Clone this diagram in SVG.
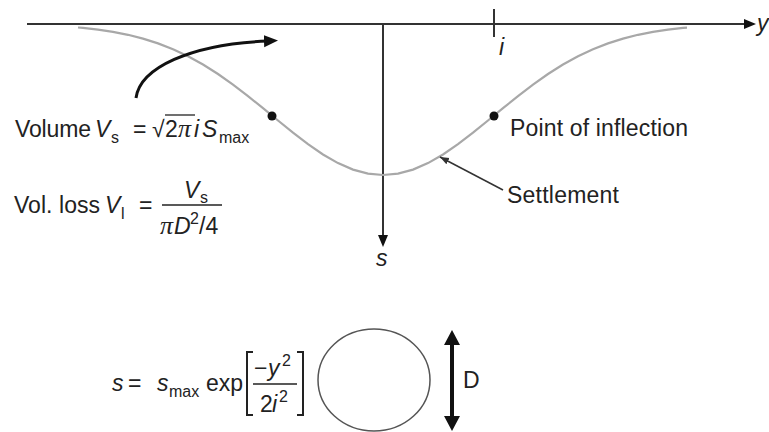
<svg xmlns="http://www.w3.org/2000/svg" width="769" height="432" viewBox="0 0 769 432">
<style>
text{font-family:"Liberation Sans",Arial,sans-serif;font-size:23px;fill:#222}
.it{font-style:italic}
.sub{font-size:16px}
.pi{font-family:"Liberation Serif","Times New Roman",serif;font-style:italic;font-size:26px}
.ax{stroke:#333;stroke-width:2;fill:none}
.blk{fill:#111}
</style>
<defs>
<marker id="bigArrow" markerUnits="userSpaceOnUse" markerWidth="16" markerHeight="14" refX="4" refY="6" orient="auto">
<path d="M0,0 L14,6 L0,12 z" fill="#111"/>
</marker>
<marker id="smallArrow" markerUnits="userSpaceOnUse" markerWidth="10" markerHeight="8" refX="9" refY="3.5" orient="auto">
<path d="M0,0 L9,3.5 L0,7 z" fill="#333"/>
</marker>
</defs>
<rect width="769" height="432" fill="#fff"/>

<g id="axes">
<line class="ax" x1="27" y1="24" x2="746" y2="24"/>
<polygon class="blk" points="744,19 756,24 744,29"/>
<text class="it" x="757" y="31">y</text>
<line class="ax" x1="383" y1="24" x2="383" y2="237"/>
<polygon class="blk" points="378,235 383,247 388,235"/>
<text class="it" x="376" y="266">s</text>
<line class="ax" x1="494" y1="9" x2="494" y2="37" stroke-width="1.5"/>
<text class="it" x="499" y="55">i</text>
</g>

<g id="settlement-curve">
<polyline fill="none" stroke="#a8a8a8" stroke-width="2.2" points="78,27.5 83,27.9 98,29.6 113,31.8 128,34.8 143,38.6 158,43.4 173,49.2 188,56.3 203,64.5 218,74 233,84.6 248,96.1 263,108.2 278,120.5 293,132.7 308,144.2 323,154.5 338,163.1 353,169.6 368,173.6 383,175 398,173.6 413,169.6 428,163.1 443,154.5 458,144.2 473,132.7 488,120.5 503,108.2 518,96.1 533,84.6 548,74 563,64.5 578,56.3 593,49.2 608,43.4 623,38.6 638,34.8 653,31.8 668,29.6 683,27.9 687,27.6"/>
</g>

<g id="inflection-left">
<circle cx="272" cy="116" r="4.5" fill="#111"/>
</g>
<g id="inflection-right">
<circle cx="494" cy="116" r="4.5" fill="#111"/>
<text x="510" y="136" textLength="178">Point of inflection</text>
</g>

<g id="settlement-label">
<text x="507" y="203" textLength="112">Settlement</text>
</g>

<g id="volume-eq">
<text x="15" y="137" textLength="76">Volume</text>
<text class="it" x="95" y="137">V</text>
<text class="sub" x="111" y="143">s</text>
<text x="133" y="137">=</text>
<text x="152" y="137">√</text>
<line x1="165" y1="115" x2="195" y2="115" stroke="#222" stroke-width="1.3"/>
<text x="165" y="137">2</text>
<text class="pi" x="178" y="137">π</text>
<text class="it" x="194" y="137">i</text>
<text class="it" x="202" y="137">S</text>
<text class="sub" x="219" y="143">max</text>
</g>

<g id="volloss-eq">
<text x="14" y="213" textLength="86">Vol. loss</text>
<text class="it" x="105" y="213">V</text>
<text class="sub" x="121" y="219">l</text>
<text x="139" y="213">=</text>
<line x1="162" y1="205" x2="222" y2="205" stroke="#222" stroke-width="1.4"/>
<text class="it" x="184" y="198">V</text>
<text class="sub" x="200" y="203">s</text>
<text class="pi" x="160" y="234">π</text>
<text class="it" x="174" y="234">D</text>
<text class="sub" x="190" y="224">2</text>
<text x="199" y="234">/4</text>
</g>

<g id="profile-eq">
<text class="it" x="112" y="391">s</text>
<text x="128" y="391">=</text>
<text class="it" x="157" y="391">s</text>
<text class="sub" x="169" y="397">max</text>
<text x="206" y="391">exp</text>
<path d="M253,352 H247 V415 H253 M297,352 H303 V415 H297" fill="none" stroke="#222" stroke-width="2"/>
<line x1="253" y1="384" x2="297" y2="384" stroke="#222" stroke-width="1.4"/>
<text x="254" y="376">−</text>
<text class="it" x="268" y="376">y</text>
<text class="sub" x="282" y="366">2</text>
<text x="260" y="412">2</text>
<text class="it" x="272" y="412">i</text>
<text class="sub" x="279" y="402">2</text>
</g>

<g id="tunnel">
<ellipse cx="374" cy="380" rx="56" ry="51" fill="none" stroke="#555" stroke-width="1.5"/>
<text x="463" y="388">D</text>
</g>

<g id="connectors">
<path d="M136,98 C140,68 190,44 268,41" fill="none" stroke="#111" stroke-width="3" marker-end="url(#bigArrow)"/>
<line x1="503" y1="190" x2="440" y2="157" stroke="#333" stroke-width="1.5" marker-end="url(#smallArrow)"/>
<line x1="452" y1="343" x2="452" y2="418" stroke="#111" stroke-width="4"/>
<polygon class="blk" points="452,330 444,345 460,345"/>
<polygon class="blk" points="452,431 444,416 460,416"/>
</g>
</svg>
